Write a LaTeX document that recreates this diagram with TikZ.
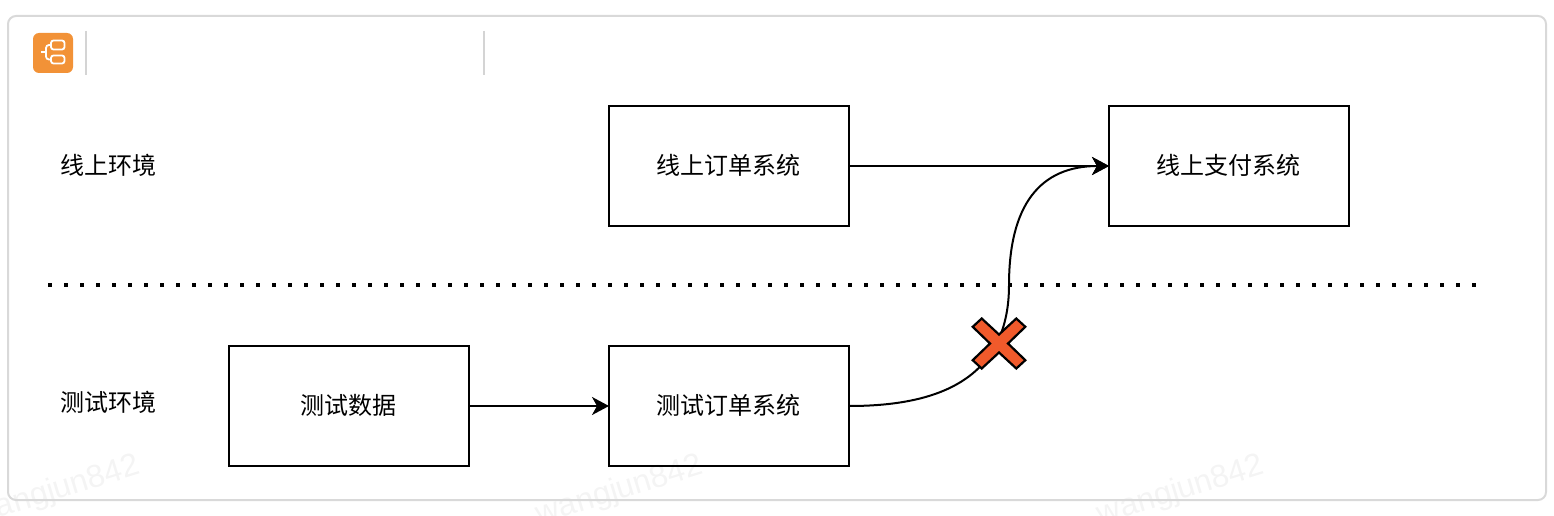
\documentclass[tikz,border=0pt]{standalone}
\usepackage{fontspec}
\setmainfont{Noto Sans CJK SC}
\newfontfamily\wmfont{Liberation Sans}
\usetikzlibrary{arrows.meta}
\definecolor{framegray}{HTML}{D9D9D9}
\definecolor{sepgray}{HTML}{D4D4D4}
\definecolor{iconorange}{HTML}{F29237}
\definecolor{crossred}{HTML}{F05A2B}
\definecolor{wmgray}{HTML}{F4F4F4}
\tikzset{
  box/.style={draw=black,line width=2pt,outer sep=0pt,minimum width=240pt,minimum height=120pt,inner sep=0pt,text height=20pt,text depth=4pt,execute at begin node={\kern-2pt},font=\fontsize{24}{28}\selectfont},
  lbl/.style={inner sep=0pt,font=\fontsize{24}{28}\selectfont},
  conn/.style={draw=black,line width=2pt,-{Stealth[length=17pt,width=18pt,inset=5pt]}},
  wm/.style={inner sep=0pt,text=wmgray,rotate=17,font=\wmfont\fontsize{32}{40}\selectfont},
}
\begin{document}
\begin{tikzpicture}[x=1pt,y=-1pt]
\useasboundingbox (0,0) rectangle (1554,516);
\begin{scope}
\clip (0,0) rectangle (1554,516);
\node[wm] (wm1) at (57,491) {wangjun842};
\node[wm] (wm2) at (620,491) {wangjun842};
\node[wm] (wm3) at (1181,491) {wangjun842};
\end{scope}
\draw[framegray,line width=2pt,rounded corners=8pt] (8,16) rectangle (1546,500);
\fill[iconorange,rounded corners=6pt] (33,33) rectangle (73,73);
\begin{scope}[draw=white,line width=1.8pt]
\draw[rounded corners=2.5pt] (51,40.5) rectangle (64.5,49.5);
\draw[rounded corners=2.5pt] (51,55.5) rectangle (64.5,63.5);
\draw[rounded corners=3pt] (51,45) -- (46,45) -- (46,59.5) -- (51,59.5);
\draw (41,52) -- (46,52);
\end{scope}
\draw[sepgray,line width=2pt] (86,31) -- (86,75);
\draw[sepgray,line width=2pt] (484,31) -- (484,75);
\node[lbl] (l1) at (108,165) {线上环境};
\node[lbl] (l2) at (108,402.5) {测试环境};
\node[box] (a) at (729,166) {线上订单系统};
\node[box] (b) at (1229,166) {线上支付系统};
\node[box] (c) at (349,406) {测试数据};
\node[box] (d) at (729,406) {测试订单系统};
\draw[black,line width=4pt,dash pattern=on 4pt off 12pt] (48,285) -- (1478,285);
\draw[conn] (a.east) -- (b.west);
\draw[conn] (c.east) -- (d.west);
\draw[conn] (d.east) .. controls (929,406) and (1009,385) .. (1009,285) .. controls (1009,205) and (1040,166) .. (b.west);
\draw[black,line width=2.2pt,fill=crossred,shift={(999,343.5)}]
 (-17.3,-25) -- (0,-9) -- (17.3,-25) -- (26.3,-16.7) -- (9,0) -- (26.3,16.7) -- (17.3,25) -- (0,9) -- (-17.3,25) -- (-26.3,16.7) -- (-9,0) -- (-26.3,-16.7) -- cycle;
\end{tikzpicture}
\end{document}
